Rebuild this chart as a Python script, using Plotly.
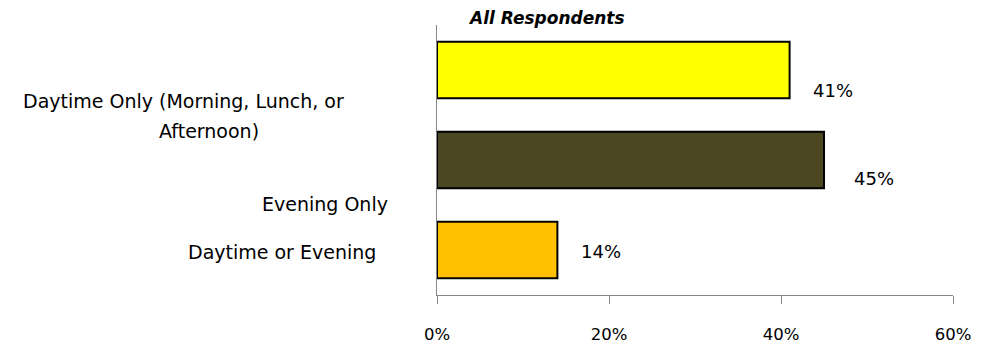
import plotly.graph_objects as go

# ---- data ----
categories = ["Daytime Only (Morning, Lunch, or<br>Afternoon)", "Evening Only", "Daytime or Evening"]
values = [41, 45, 14]
value_labels = ["41%", "45%", "14%"]
tick_vals = [0, 20, 40, 60]
tick_labels = ["0%", "20%", "40%", "60%"]
title_text = "All Respondents"

# ---- styling ----
colors = ["#FFFF00", "#4A4722", "#FFC000"]
FONT = "DejaVu Sans"
CAT_FS = 19
VAL_FS = 18
TICK_FS = 16.5
TITLE_FS = 17
label_xshift = [22, 29, 23]
label_yshift = [-20, -18, -1]
OFF = 8  # page body margin
# category label line placement in window pixels (center x, y) per line
cat_line_pos = [[(183, 101), (209, 131)], [(325, 204)], [(282, 252)]]
title_pos = (546, 18)

W, H = 986 - OFF, 345 - OFF
L, R, T, B = 437 - OFF, 33, 25 - OFF, 50

fig = go.Figure()
fig.add_trace(go.Bar(
    x=values, y=categories, orientation="h",
    marker=dict(color=colors, line=dict(color="#000000", width=2)),
    hoverinfo="skip",
))

for v, lab, xs, ys, c in zip(values, value_labels, label_xshift, label_yshift, categories):
    fig.add_annotation(x=v, y=c, xref="x", yref="y", text=lab, showarrow=False,
                       xanchor="left", yanchor="middle", xshift=xs, yshift=ys, borderpad=0,
                       font=dict(family=FONT, size=VAL_FS, color="#000000"))

pw, ph = W - L - R, H - T - B


def to_paper(px, py):
    return (px - OFF - L) / pw, 1 - (py - OFF - T) / ph


for c, positions in zip(categories, cat_line_pos):
    for line, (px, py) in zip(c.split("<br>"), positions):
        ax, ay = to_paper(px, py)
        fig.add_annotation(x=ax, y=ay, xref="paper", yref="paper",
                           text=line, showarrow=False, xanchor="center", yanchor="middle",
                           borderpad=0,
                           font=dict(family=FONT, size=CAT_FS, color="#000000"))

tx, ty = to_paper(*title_pos)
fig.add_annotation(x=tx, y=ty, xref="paper", yref="paper",
                   text="<b><i>" + title_text + "</i></b>", showarrow=False,
                   xanchor="center", yanchor="middle", borderpad=0,
                   font=dict(family=FONT, size=TITLE_FS, color="#000000"))

fig.update_layout(
    width=W, height=H,
    margin=dict(l=L, r=R, t=T, b=B, pad=0),
    paper_bgcolor="white", plot_bgcolor="white",
    bargap=0.37, showlegend=False,
    font=dict(family=FONT, size=VAL_FS, color="#000000"),
)
fig.update_xaxes(range=[0, 60], tickvals=tick_vals, ticktext=tick_labels,
                 showgrid=False, zeroline=False, showline=True, linecolor="#868686", linewidth=1,
                 ticks="outside", ticklen=8, tickcolor="#868686", tickwidth=1,
                 ticklabelstandoff=16, automargin=False,
                 tickfont=dict(family=FONT, size=TICK_FS, color="#000000"))
fig.update_yaxes(autorange="reversed", showgrid=False, zeroline=False, showline=True,
                 linecolor="#868686", linewidth=1, showticklabels=False, ticks="")

fig.write_html("out.html")
